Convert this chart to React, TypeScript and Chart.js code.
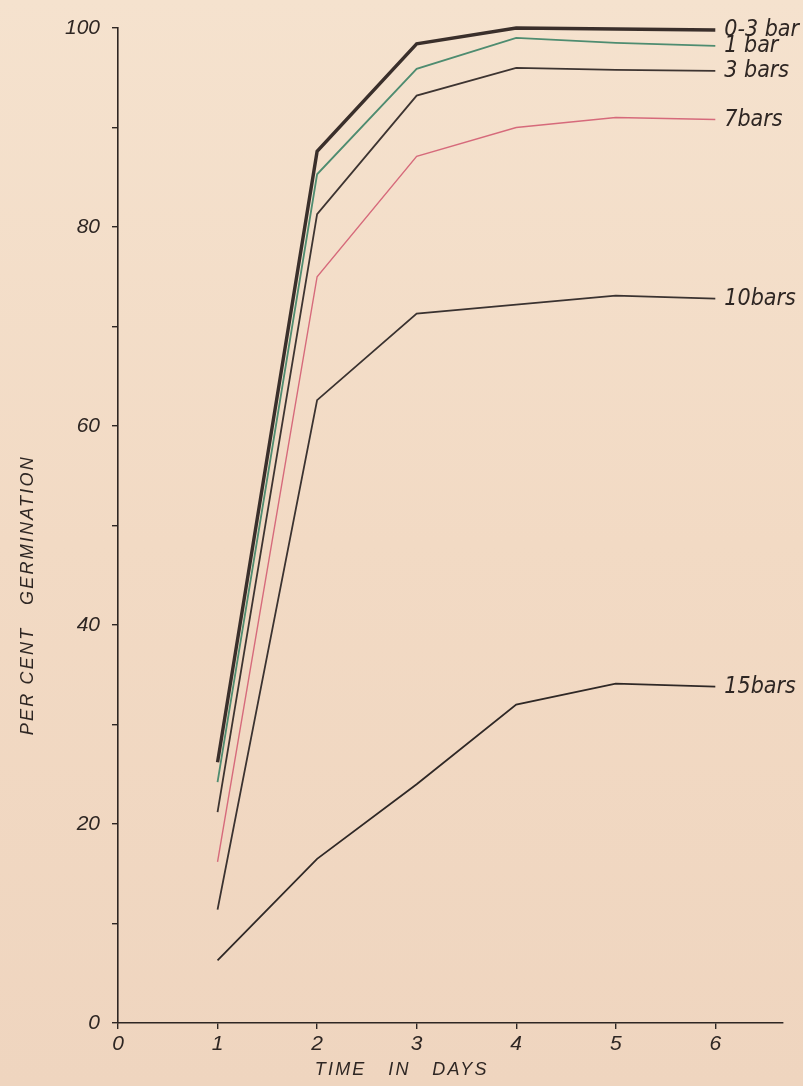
import { useEffect, useRef } from 'react';
import { Chart, registerables } from 'chart.js';

Chart.register(...registerables);

// ---- data ----
const days = [1, 2, 3, 4, 5, 6];
const xTickValues = [0, 1, 2, 3, 4, 5, 6];
const yTickValues = [0, 10, 20, 30, 40, 50, 60, 70, 80, 90, 100];
const yLabelValues = [0, 20, 40, 60, 80, 100];
const seriesLabels = ['0-3 bar', '1 bar', '3 bars', '7bars', '10bars', '15bars'];
const bar03 = [26.2, 87.6, 98.4, 100, 99.9, 99.8];
const bar1 = [24.2, 85.3, 95.9, 99.0, 98.5, 98.2];
const bar3 = [21.2, 81.3, 93.2, 96.0, 95.8, 95.7];
const bar7 = [16.2, 75.0, 87.1, 90.0, 91.0, 90.8];
const bar10 = [11.4, 62.6, 71.3, 72.2, 73.1, 72.8];
const bar15 = [6.3, 16.5, 24.0, 32.0, 34.1, 33.8];
const xTitle = 'TIME   IN   DAYS';
const yTitle = 'PER CENT   GERMINATION';

const seriesValues = [bar03, bar1, bar3, bar7, bar10, bar15];

// ---- styles ----
const INK = '#2e2623';
const lineStyles = [
  { color: '#3a2f2b', width: 3.4 },
  { color: '#4e8c70', width: 1.8 },
  { color: '#3d3431', width: 1.8 },
  { color: '#d66a7b', width: 1.4 },
  { color: '#3a3230', width: 1.8 },
  { color: '#2f2826', width: 1.8 },
];
const TICK_FONT = { family: '"Liberation Sans", "DejaVu Sans", sans-serif', size: 21, style: 'italic' as const };
const LABEL_FONT = 'italic 23px "Liberation Sans Narrow", "DejaVu Sans Condensed", sans-serif';
const TITLE_FONT = 'italic 18px "Liberation Sans", "DejaVu Sans", sans-serif';

const annotate = {
  id: 'annotate',
  afterDatasetsDraw(chart: any) {
    const ctx = chart.ctx as CanvasRenderingContext2D;
    const xs = chart.scales.x;
    const ys = chart.scales.y;
    ctx.save();
    ctx.fillStyle = INK;
    ctx.font = LABEL_FONT;
    ctx.textAlign = 'left';
    ctx.textBaseline = 'middle';
    chart.data.datasets.forEach((ds: any, i: number) => {
      const meta = chart.getDatasetMeta(i);
      const last = meta.data[meta.data.length - 1];
      ctx.fillText(ds.label, last.x + 9, last.y);
    });
    ctx.font = TITLE_FONT;
    (ctx as any).letterSpacing = '2.2px';
    ctx.textAlign = 'center';
    ctx.fillText(xTitle, xs.getPixelForValue(2.85), chart.chartArea.bottom + 47);
    ctx.translate(28, ys.getPixelForValue(43));
    ctx.rotate(-Math.PI / 2);
    ctx.fillText(yTitle, 0, 0);
    ctx.restore();
  },
};

export default function App() {
  const ref = useRef<HTMLCanvasElement>(null);
  useEffect(() => {
    if (!ref.current) return;
    const chart = new Chart(ref.current, {
      type: 'line',
      data: {
        datasets: seriesValues.map((vals, i) => ({
          label: seriesLabels[i],
          data: days.map((d, j) => ({ x: d, y: vals[j] })),
          borderColor: lineStyles[i].color,
          borderWidth: lineStyles[i].width,
          pointRadius: 0,
          tension: 0,
          fill: false,
          clip: false as any,
          borderJoinStyle: 'miter' as const,
        })),
      },
      options: {
        responsive: false,
        animation: false,
        layout: { padding: { top: 28, right: 20, left: 0, bottom: 0 } },
        plugins: { legend: { display: false }, tooltip: { enabled: false }, title: { display: false } },
        scales: {
          x: {
            type: 'linear',
            min: 0,
            max: 6.68,
            afterBuildTicks: (s: any) => { s.ticks = xTickValues.map((v) => ({ value: v })); },
            afterFit: (s: any) => { s.height = 63; },
            ticks: { color: INK, font: TICK_FONT, padding: 3, maxRotation: 0, autoSkip: false },
            grid: { drawOnChartArea: false, drawTicks: true, tickLength: 6, color: INK, lineWidth: 1.4 },
            border: { display: true, color: INK, width: 1.6 },
          },
          y: {
            type: 'linear',
            min: 0,
            max: 100,
            afterBuildTicks: (s: any) => { s.ticks = yTickValues.map((v) => ({ value: v })); },
            afterFit: (s: any) => { s.width = 118; },
            ticks: {
              color: INK,
              font: TICK_FONT,
              padding: 12,
              autoSkip: false,
              callback: (v: any) => (yLabelValues.includes(Number(v)) ? String(v) : ''),
            },
            grid: { drawOnChartArea: false, drawTicks: true, tickLength: 6, color: INK, lineWidth: 1.4 },
            border: { display: true, color: INK, width: 1.6 },
          },
        },
      },
      plugins: [annotate],
    });
    return () => chart.destroy();
  }, []);
  return (
    <div
      style={{
        position: 'fixed',
        left: 0,
        top: 0,
        width: 803,
        height: 1086,
        background: 'linear-gradient(180deg, #f5e2ce 0%, #f2dac4 50%, #efd5bf 100%)',
      }}
    >
      <canvas ref={ref} width={803} height={1086} style={{ display: 'block' }} />
    </div>
  );
}
